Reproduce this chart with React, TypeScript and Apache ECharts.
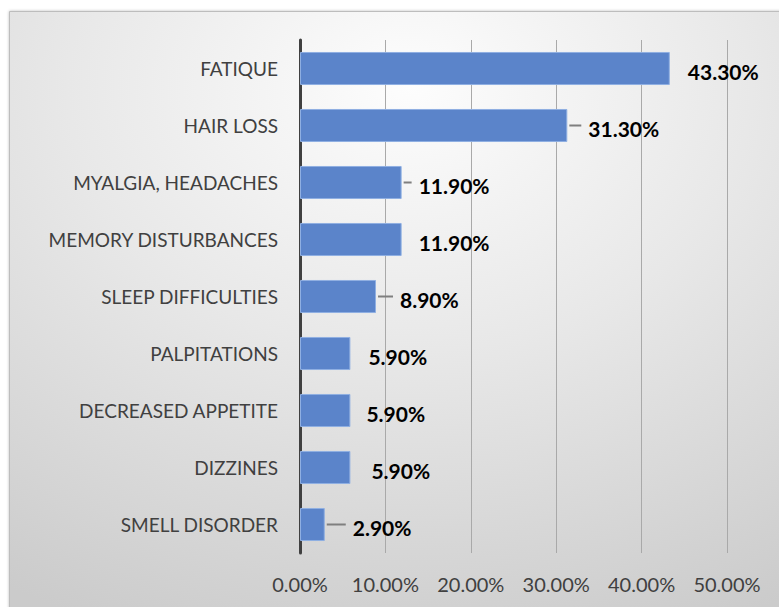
import React, { useEffect, useRef } from "react";
import * as echarts from "echarts";

const categories = [
  "FATIQUE",
  "HAIR LOSS",
  "MYALGIA, HEADACHES",
  "MEMORY DISTURBANCES",
  "SLEEP DIFFICULTIES",
  "PALPITATIONS",
  "DECREASED APPETITE",
  "DIZZINES",
  "SMELL DISORDER",
];
const values = [43.3, 31.3, 11.9, 11.9, 8.9, 5.9, 5.9, 5.9, 2.9];
const hasLeader = [false, true, true, false, true, false, false, false, true];
const xTicks = [0, 10, 20, 30, 40, 50];
// style: gap between bar end and its (hand-placed) data label, px
const labelGap = [18, 21, 17, 17, 24, 18, 16, 21, 28];

export default function App() {
  const ref = useRef<HTMLDivElement>(null);
  useEffect(() => {
    if (!ref.current) return;
    const chart = echarts.init(ref.current, null, { renderer: "svg" });
    const font = "Lato, 'Liberation Sans', sans-serif";
    chart.setOption({
      animation: false,
      backgroundColor: "#ffffff",
      graphic: [
        {
          type: "rect",
          z: -10,
          shape: { x: 9.5, y: 11.5, width: 800, height: 620 },
          style: {
            fill: new echarts.graphic.RadialGradient(0.5, 0.12, 0.95, [
              { offset: 0, color: "#fdfdfd" },
              { offset: 0.45, color: "#e8e8e8" },
              { offset: 1, color: "#cbcbcb" },
            ]),
            stroke: "#bdbdbd",
            lineWidth: 1,
            shadowBlur: 3,
            shadowColor: "rgba(0,0,0,0.25)",
          },
        },
      ],
      grid: { left: 300, right: 52, top: 40, bottom: 54, containLabel: false },
      xAxis: {
        type: "value",
        min: xTicks[0],
        max: xTicks[xTicks.length - 1],
        interval: 10,
        axisLine: { show: false },
        axisTick: { show: false },
        splitLine: { show: true, lineStyle: { color: "#a9a9a9", width: 1 } },
        axisLabel: {
          margin: 21,
          color: "#404040",
          fontFamily: font,
          fontSize: 20,
          formatter: (v: number) => v.toFixed(2) + "%",
        },
      },
      yAxis: {
        type: "category",
        inverse: true,
        data: categories,
        axisLine: { show: true, lineStyle: { color: "#404040", width: 3 } },
        axisTick: { show: false },
        axisLabel: {
          margin: 22,
          color: "#404040",
          fontFamily: font,
          fontSize: 19,
        },
      },
      series: [
        {
          type: "bar",
          data: values.map((v, i) => ({
            value: v,
            label: { distance: labelGap[i] },
          })),
          barWidth: "58%",
          itemStyle: {
            color: "#5b84ca",
            borderColor: "#8fafe2",
            borderWidth: 1,
          },
          label: {
            show: true,
            position: "right",
            offset: [0, 3],
            color: "#000000",
            fontWeight: "bold",
            fontFamily: font,
            fontSize: 21,
            formatter: (p: any) => p.value.toFixed(2) + "%",
          },
          z: 3,
        },
        {
          type: "custom",
          data: values.map((v, i) => [v, i]),
          z: 4,
          renderItem: (params: any, api: any) => {
            const i = params.dataIndex;
            if (!hasLeader[i]) return null;
            const p = api.coord([api.value(0), api.value(1)]);
            return {
              type: "line",
              shape: {
                x1: p[0] + 2,
                y1: p[1],
                x2: p[0] + labelGap[i] - 7,
                y2: p[1],
              },
              style: { stroke: "#7f7f7f", lineWidth: 2 },
            };
          },
        },
      ],
    });
    return () => chart.dispose();
  }, []);
  return (
    <div
      ref={ref}
      style={{ position: "fixed", left: 0, top: 0, width: 779, height: 607 }}
    />
  );
}
